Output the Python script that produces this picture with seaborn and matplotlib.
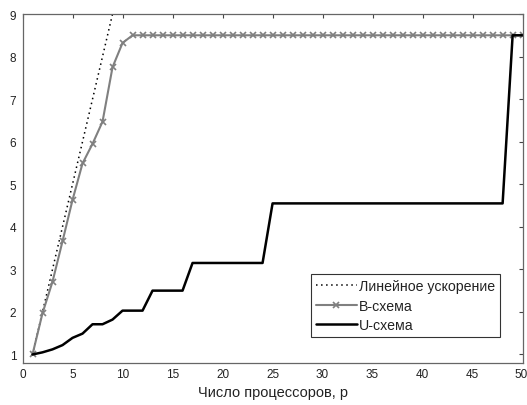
import numpy as np
import pandas as pd
import matplotlib
matplotlib.use("Agg")
import matplotlib.pyplot as plt
import matplotlib.transforms as mtransforms
import seaborn as sns

# число процессоров
p = list(range(1, 51))

# B-схема (читано с графика)
b_scheme = [1.0, 1.97, 2.71, 3.66, 4.63, 5.49, 5.95, 6.47, 7.75, 8.32] + [8.5] * 40

# U-схема (читано с графика)
u_scheme = ([1.0, 1.05, 1.12, 1.22, 1.39, 1.49, 1.71, 1.71, 1.82, 2.03, 2.03, 2.03]
            + [2.5] * 4 + [3.15] * 8 + [4.55] * 24 + [8.5] * 2)

linear = p  # линейное ускорение

xticks = [0, 5, 10, 15, 20, 25, 30, 35, 40, 45, 50]
yticks = [1, 2, 3, 4, 5, 6, 7, 8, 9]

sns.set_theme(style="white")
plt.rcParams['font.family'] = ['Liberation Sans', 'DejaVu Sans']
plt.rcParams['xtick.direction'] = 'in'
plt.rcParams['ytick.direction'] = 'in'

df = pd.DataFrame({'p': p, 'linear': linear, 'B': b_scheme, 'U': u_scheme})

fig = plt.figure(figsize=(5.27, 4.06), dpi=100)
ax = fig.add_axes([0.0427, 0.1035, 0.949, 0.8595])

sns.lineplot(data=df, x='p', y='linear', ax=ax, color='black', linestyle=(0, (1, 2.3)),
             linewidth=1.1, label='Линейное ускорение')
sns.lineplot(data=df, x='p', y='B', ax=ax, color='#808080', linewidth=1.5,
             marker='x', markersize=4, markeredgewidth=1.2, markeredgecolor='#808080',
             label='B-схема')
sns.lineplot(data=df, x='p', y='U', ax=ax, color='black', linewidth=1.8,
             label='U-схема')

ax.set_xlim(0, 50)
ax.set_ylim(0.8, 9)
ax.set_xticks(xticks)
ax.set_yticks(yticks)
ax.tick_params(axis='both', labelsize=8.5, length=3, width=0.8, color='#444444',
               labelcolor='#222222', top=True, right=True)
ax.tick_params(axis='x', pad=3.5)
ax.tick_params(axis='y', pad=4.5)
for s in ax.spines.values():
    s.set_color('#666666')
    s.set_linewidth(0.9)

# последняя подпись "50" сдвинута влево, чтобы не обрезалась
last = ax.get_xticklabels()[-1]
last.set_horizontalalignment('right')
last.set_transform(last.get_transform() + mtransforms.ScaledTranslation(4 / 72, 0, fig.dpi_scale_trans))

ax.set_xlabel('Число процессоров, p', fontsize=10.5, labelpad=4, color='#222222')
ax.set_ylabel('')

leg = ax.legend(loc='lower right', bbox_to_anchor=(0.955, 0.074), fontsize=10.2,
                frameon=True, fancybox=False, handlelength=2.9, borderpad=0.35,
                labelspacing=0.38, handletextpad=0.15, borderaxespad=0)
leg.get_frame().set_edgecolor('black')
leg.get_frame().set_linewidth(0.8)
for t in leg.get_texts():
    t.set_color('#222222')

fig.savefig('out.png', dpi=100)
